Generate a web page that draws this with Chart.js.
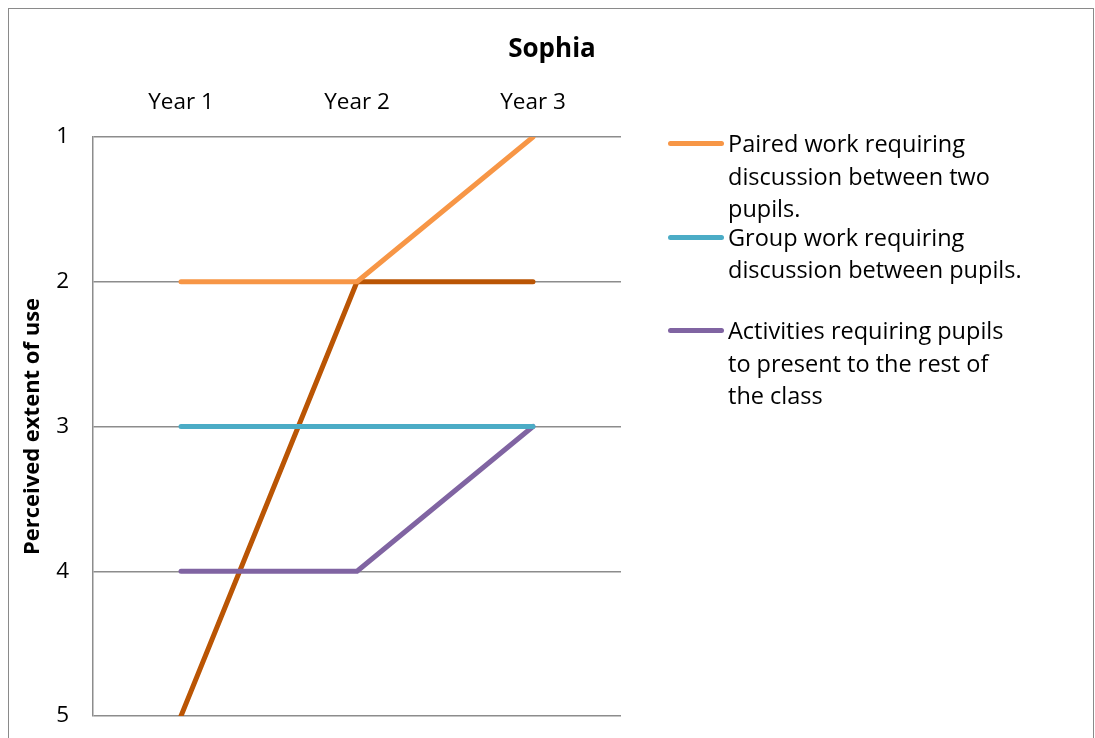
<!DOCTYPE html>
<html>
<head>
<meta charset="utf-8">
<script src="https://cdn.jsdelivr.net/npm/chart.js@4.4.0/dist/chart.umd.min.js"></script>
<style>
  html, body { margin: 0; padding: 0; background: #fff; }
  #wrap { position: relative; width: 1095px; height: 738px; overflow: hidden; font-family: "Open Sans", sans-serif; }
  #frame { position: absolute; left: 8px; top: 8px; width: 1086px; height: 760px; border: 1px solid #8a8a8a; box-sizing: border-box; pointer-events: none; }
  #title { position: absolute; left: 0; width: 1104px; top: 29px; text-align: center; font-weight: bold; font-size: 26px; color: #000; }
  #legend { position: absolute; left: 668px; top: 127px; }
  .item { position: relative; height: 93.5px; }
  .sw { position: absolute; left: 0; top: 14px; width: 56px; height: 5px; border-radius: 3px; }
  .txt { position: absolute; left: 60px; top: 0; width: 296px; font-size: 23.5px; line-height: 32.5px; color: #000; }
  canvas { position: absolute; left: 0; top: 0; width: 1095px; height: 738px; }
</style>
</head>
<body>
<div id="wrap">
  <canvas id="c" width="1095" height="738"></canvas>
  <div id="title">Sophia</div>
  <div id="legend"></div>
  <div id="frame"></div>
</div>
<script>
const categories = ['Year 1', 'Year 2', 'Year 3'];
const seriesLabels = [
  'Paired work requiring discussion between two pupils.',
  'Group work requiring discussion between pupils.',
  'Activities requiring pupils to present to the rest of the class',
  'Series 4'
];
const pairedWork = [2, 2, 1];
const groupWork = [3, 3, 3];
const presenting = [4, 4, 3];
const series4 = [5, 2, 2];
const seriesColors = ['#F79646', '#4BACC6', '#8064A2', '#BA5504'];
const yTicks = [1, 2, 3, 4, 5];
const legendCount = 3;

const values = [pairedWork, groupWork, presenting, series4];
const datasets = values.map((v, i) => ({
  label: seriesLabels[i],
  data: v,
  borderColor: seriesColors[i],
  backgroundColor: seriesColors[i],
  borderWidth: 5,
  borderCapStyle: 'round',
  borderJoinStyle: 'round',
  pointRadius: 0,
  pointHoverRadius: 0,
  tension: 0,
  fill: false
}));

const font = "'Open Sans', sans-serif";
const chart = new Chart(document.getElementById('c'), {
  type: 'line',
  data: { labels: categories, datasets },
  options: {
    responsive: false,
    maintainAspectRatio: false,
    animation: false,
    layout: { padding: { left: 0, right: 474, top: 0, bottom: 22 } },
    plugins: {
      legend: { display: false },
      title: { display: false },
      tooltip: { enabled: false }
    },
    scales: {
      x: {
        position: 'top',
        offset: true,
        grid: { display: false, drawTicks: false },
        border: { display: false },
        ticks: { color: '#000', font: { family: font, size: 22.5 }, padding: 21, maxRotation: 0 },
        afterFit: s => { s.height = 137; s.paddingLeft = 0; s.paddingRight = 0; }
      },
      y: {
        reverse: true,
        min: 1,
        max: 5,
        afterBuildTicks: s => { s.ticks = yTicks.map(v => ({ value: v })); },
        grid: { color: '#8c8c8c', lineWidth: 1.5, drawTicks: false },
        border: { display: true, color: '#8c8c8c', width: 1.5 },
        ticks: { color: '#000', font: { family: font, size: 22.5 }, padding: 24 },
        title: { display: true, text: 'Perceived extent of use', color: '#000', font: { family: font, size: 22, weight: 'bold' }, padding: { top: 20, bottom: 0 } },
        afterFit: s => { s.width = 93; s.paddingTop = 0; s.paddingBottom = 0; }
      }
    }
  }
});

const legendEl = document.getElementById('legend');
chart.data.datasets.slice(0, legendCount).forEach(ds => {
  const item = document.createElement('div');
  item.className = 'item';
  const sw = document.createElement('div');
  sw.className = 'sw';
  sw.style.background = ds.borderColor;
  const t = document.createElement('div');
  t.className = 'txt';
  t.textContent = ds.label;
  item.appendChild(sw);
  item.appendChild(t);
  legendEl.appendChild(item);
});
</script>
</body>
</html>
